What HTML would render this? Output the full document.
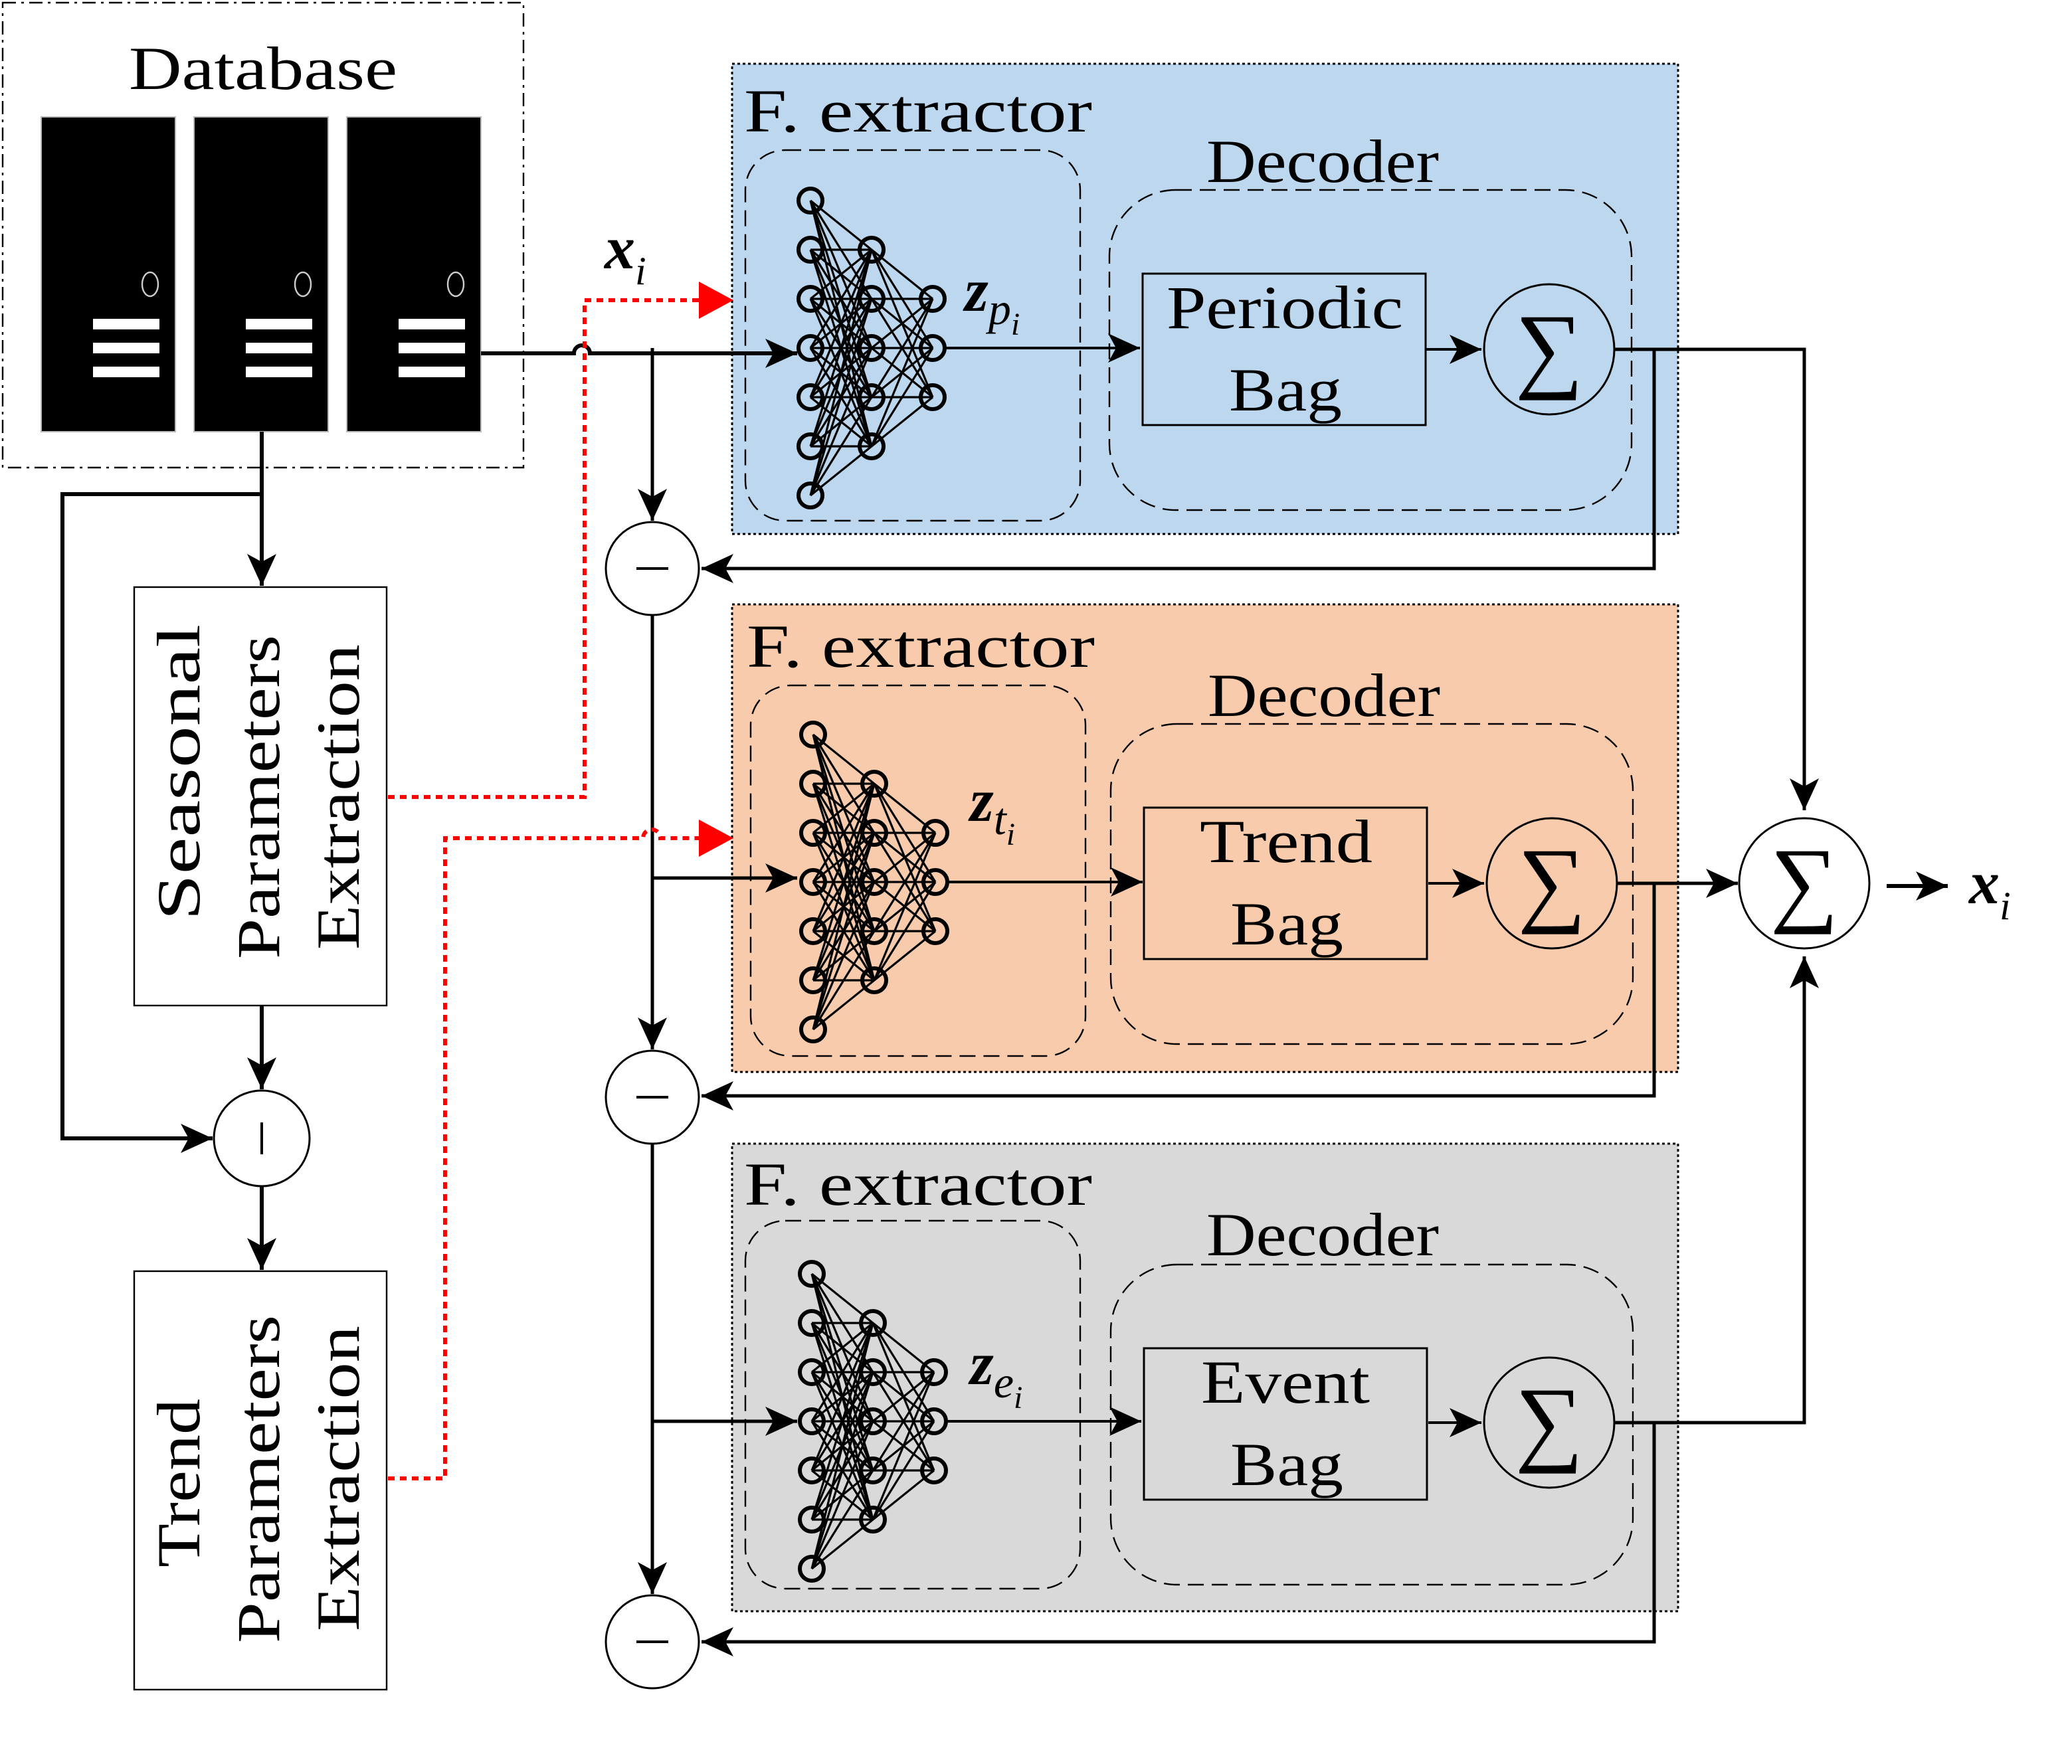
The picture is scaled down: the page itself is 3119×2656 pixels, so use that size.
<!DOCTYPE html>
<html><head><meta charset="utf-8"><style>
html,body{margin:0;padding:0;background:#fff}
svg{display:block}
text{font-family:"Liberation Serif","DejaVu Serif",serif;fill:#000}
</style></head><body>
<svg width="3119" height="2656" viewBox="0 0 1559.5 1328" xmlns="http://www.w3.org/2000/svg">
<defs>
<marker id="ah" viewBox="0 0 10 10" refX="10" refY="5" markerWidth="24" markerHeight="22" markerUnits="userSpaceOnUse" orient="auto" preserveAspectRatio="none"><path d="M0,0 L10,5 L0,10 L2.5,5 z" fill="#000"/></marker>
<g id="nn">
<path fill="none" stroke="#000" stroke-width="1.6" d="
M0,-111L46,-74M0,-111L46,-37M0,-111L46,0M0,-111L46,37M0,-111L46,74
M0,-74L46,-74M0,-74L46,-37M0,-74L46,0M0,-74L46,37M0,-74L46,74
M0,-37L46,-74M0,-37L46,-37M0,-37L46,0M0,-37L46,37M0,-37L46,74
M0,0L46,-74M0,0L46,-37M0,0L46,0M0,0L46,37M0,0L46,74
M0,37L46,-74M0,37L46,-37M0,37L46,0M0,37L46,37M0,37L46,74
M0,74L46,-74M0,74L46,-37M0,74L46,0M0,74L46,37M0,74L46,74
M0,111L46,-74M0,111L46,-37M0,111L46,0M0,111L46,37M0,111L46,74
M46,-74L92,-37M46,-74L92,0M46,-74L92,37
M46,-37L92,-37M46,-37L92,0M46,-37L92,37
M46,0L92,-37M46,0L92,0M46,0L92,37
M46,37L92,-37M46,37L92,0M46,37L92,37
M46,74L92,-37M46,74L92,0M46,74L92,37"/>
<g fill="none" stroke="#000" stroke-width="3">
<circle cx="0" cy="-111" r="9"/><circle cx="0" cy="-74" r="9"/><circle cx="0" cy="-37" r="9"/><circle cx="0" cy="0" r="9"/><circle cx="0" cy="37" r="9"/><circle cx="0" cy="74" r="9"/><circle cx="0" cy="111" r="9"/>
<circle cx="46" cy="-74" r="9"/><circle cx="46" cy="-37" r="9"/><circle cx="46" cy="0" r="9"/><circle cx="46" cy="37" r="9"/><circle cx="46" cy="74" r="9"/>
<circle cx="92" cy="-37" r="9"/><circle cx="92" cy="0" r="9"/><circle cx="92" cy="37" r="9"/>
</g>
</g>
<g id="server">
<rect x="0" y="0" width="101" height="237" fill="#000" stroke="#bbb" stroke-width="1"/>
<ellipse cx="82" cy="126" rx="6" ry="9" fill="none" stroke="#ccc" stroke-width="1.2"/>
<rect x="39" y="152" width="50" height="8" fill="#fff"/>
<rect x="39" y="170" width="50" height="8" fill="#fff"/>
<rect x="39" y="188" width="50" height="8" fill="#fff"/>
</g>
</defs>

<!-- Database -->
<rect x="2" y="2" width="392" height="350" fill="none" stroke="#000" stroke-width="1.2" stroke-dasharray="10,4,2,4"/>
<text x="97" y="67" font-size="46" textLength="202" lengthAdjust="spacingAndGlyphs">Database</text>
<use href="#server" x="31" y="88"/>
<use href="#server" x="146" y="88"/>
<use href="#server" x="261" y="88"/>

<!-- Panels -->
<rect x="551" y="48" width="712" height="354" fill="#bdd7ee" stroke="#000" stroke-width="1.5" stroke-dasharray="2,2"/>
<rect x="551" y="455" width="712" height="352" fill="#f8cbad" stroke="#000" stroke-width="1.5" stroke-dasharray="2,2"/>
<rect x="551" y="861" width="712" height="352" fill="#d9d9d9" stroke="#000" stroke-width="1.5" stroke-dasharray="2,2"/>

<g>
<text x="560" y="99" font-size="46" textLength="262" lengthAdjust="spacingAndGlyphs">F. extractor</text>
<rect x="561" y="113" width="252" height="279" rx="30" fill="none" stroke="#000" stroke-width="1.2" stroke-dasharray="12,6"/>
<text x="908" y="137" font-size="46" textLength="175" lengthAdjust="spacingAndGlyphs">Decoder</text>
<rect x="835" y="143" width="393" height="241" rx="50" fill="none" stroke="#000" stroke-width="1.2" stroke-dasharray="12,6"/>
<rect x="860" y="206" width="213" height="114" fill="none" stroke="#000" stroke-width="1.5"/>
<text x="878" y="247" font-size="46" textLength="178" lengthAdjust="spacingAndGlyphs">Periodic</text>
<text x="925" y="309" font-size="46" textLength="85" lengthAdjust="spacingAndGlyphs">Bag</text>
<circle cx="1166" cy="263" r="49" fill="none" stroke="#000" stroke-width="1.5"/>
<text x="1166" y="286" font-size="72" text-anchor="middle">∑</text>
<use href="#nn" x="610" y="262"/>
<line x1="712" y1="262" x2="858" y2="262" stroke="#000" stroke-width="2" marker-end="url(#ah)"/>
<line x1="1073" y1="263" x2="1115" y2="263" stroke="#000" stroke-width="2" marker-end="url(#ah)"/>
<text x="726" y="234" font-size="46" font-weight="bold" font-style="italic">z<tspan font-weight="normal" font-size="34" dy="10">p</tspan><tspan font-weight="normal" font-size="24" dy="8">i</tspan></text>
</g>
<g>
<text x="562" y="502" font-size="46" textLength="262" lengthAdjust="spacingAndGlyphs">F. extractor</text>
<rect x="565" y="516" width="252" height="279" rx="30" fill="none" stroke="#000" stroke-width="1.2" stroke-dasharray="12,6"/>
<text x="909" y="539" font-size="46" textLength="175" lengthAdjust="spacingAndGlyphs">Decoder</text>
<rect x="836" y="545" width="393" height="241" rx="50" fill="none" stroke="#000" stroke-width="1.2" stroke-dasharray="12,6"/>
<rect x="861" y="608" width="213" height="114" fill="none" stroke="#000" stroke-width="1.5"/>
<text x="903" y="649" font-size="46" textLength="130" lengthAdjust="spacingAndGlyphs">Trend</text>
<text x="926" y="711" font-size="46" textLength="85" lengthAdjust="spacingAndGlyphs">Bag</text>
<circle cx="1168" cy="665" r="49" fill="none" stroke="#000" stroke-width="1.5"/>
<text x="1168" y="688" font-size="72" text-anchor="middle">∑</text>
<use href="#nn" x="612" y="664"/>
<line x1="714" y1="664" x2="860" y2="664" stroke="#000" stroke-width="2" marker-end="url(#ah)"/>
<line x1="1075" y1="665" x2="1117" y2="665" stroke="#000" stroke-width="2" marker-end="url(#ah)"/>
<text x="730" y="618" font-size="46" font-weight="bold" font-style="italic">z<tspan font-weight="normal" font-size="34" dy="10">t</tspan><tspan font-weight="normal" font-size="24" dy="8">i</tspan></text>
</g>
<g>
<text x="560" y="907" font-size="46" textLength="262" lengthAdjust="spacingAndGlyphs">F. extractor</text>
<rect x="561" y="919" width="252" height="277" rx="30" fill="none" stroke="#000" stroke-width="1.2" stroke-dasharray="12,6"/>
<text x="908" y="945" font-size="46" textLength="175" lengthAdjust="spacingAndGlyphs">Decoder</text>
<rect x="836" y="952" width="393" height="241" rx="50" fill="none" stroke="#000" stroke-width="1.2" stroke-dasharray="12,6"/>
<rect x="861" y="1015" width="213" height="114" fill="none" stroke="#000" stroke-width="1.5"/>
<text x="904" y="1056" font-size="46" textLength="127" lengthAdjust="spacingAndGlyphs">Event</text>
<text x="926" y="1118" font-size="46" textLength="85" lengthAdjust="spacingAndGlyphs">Bag</text>
<circle cx="1166" cy="1071" r="49" fill="none" stroke="#000" stroke-width="1.5"/>
<text x="1166" y="1094" font-size="72" text-anchor="middle">∑</text>
<use href="#nn" x="611" y="1070"/>
<line x1="713" y1="1070" x2="859" y2="1070" stroke="#000" stroke-width="2" marker-end="url(#ah)"/>
<line x1="1075" y1="1071" x2="1115" y2="1071" stroke="#000" stroke-width="2" marker-end="url(#ah)"/>
<text x="730" y="1042" font-size="46" font-weight="bold" font-style="italic">z<tspan font-weight="normal" font-size="34" dy="10">e</tspan><tspan font-weight="normal" font-size="24" dy="8">i</tspan></text>
</g>

<path d="M362,266 H432 A6,6 0 0 1 444,266 H600" fill="none" stroke="#000" stroke-width="3" marker-end="url(#ah)"/>
<text x="455" y="202" font-size="46" font-weight="bold" font-style="italic">x<tspan font-weight="normal" font-size="30" dy="12">i</tspan></text>

<g fill="#fff" stroke="#000" stroke-width="1.5">
<circle cx="491" cy="428" r="35"/><circle cx="491" cy="826" r="35"/><circle cx="491" cy="1236" r="35"/>
</g>
<g stroke="#000" stroke-width="2"><line x1="479" y1="428" x2="503" y2="428"/><line x1="479" y1="826" x2="503" y2="826"/><line x1="479" y1="1236" x2="503" y2="1236"/></g>

<g fill="none" stroke="#000" stroke-width="2.5">
<line x1="491" y1="262" x2="491" y2="392" marker-end="url(#ah)"/>
<line x1="491" y1="463" x2="491" y2="790" marker-end="url(#ah)"/>
<line x1="491" y1="661" x2="600" y2="661" marker-end="url(#ah)"/>
<line x1="491" y1="861" x2="491" y2="1200" marker-end="url(#ah)"/>
<line x1="491" y1="1070" x2="600" y2="1070" marker-end="url(#ah)"/>
<path d="M1215,263 H1358 V610" marker-end="url(#ah)"/>
<path d="M1245,263 V428 H528" marker-end="url(#ah)"/>
<path d="M1217,665 H1308" marker-end="url(#ah)"/>
<path d="M1245,665 V825 H528" marker-end="url(#ah)"/>
<path d="M1215,1071 H1358 V720" marker-end="url(#ah)"/>
<path d="M1245,1071 V1236 H528" marker-end="url(#ah)"/>
<line x1="1420" y1="667" x2="1466" y2="667" stroke-width="3" marker-end="url(#ah)"/>
<line x1="197" y1="325" x2="197" y2="441" stroke-width="3" marker-end="url(#ah)"/>
<path d="M197,372 H47 V857 H160" stroke-width="3" marker-end="url(#ah)"/>
<line x1="197" y1="757" x2="197" y2="820" stroke-width="3" marker-end="url(#ah)"/>
<line x1="197" y1="893" x2="197" y2="956" stroke-width="3" marker-end="url(#ah)"/>
</g>

<circle cx="1358" cy="665" r="49" fill="#fff" stroke="#000" stroke-width="1.5"/>
<text x="1358" y="688" font-size="72" text-anchor="middle">∑</text>
<text x="1482" y="680" font-size="46" font-weight="bold" font-style="italic">x<tspan font-weight="normal" font-size="30" dy="12">i</tspan></text>

<circle cx="197" cy="857" r="36" fill="#fff" stroke="#000" stroke-width="1.5"/>
<line x1="197" y1="845" x2="197" y2="869" stroke="#000" stroke-width="2"/>

<rect x="101" y="442" width="190" height="315" fill="#fff" stroke="#000" stroke-width="1.2"/>
<g transform="translate(196,600) rotate(-90)">
<text x="-93" y="-46" font-size="46" textLength="223" lengthAdjust="spacingAndGlyphs">Seasonal</text>
<text x="-122" y="14" font-size="46" textLength="244" lengthAdjust="spacingAndGlyphs">Parameters</text>
<text x="-115" y="74" font-size="46" textLength="230" lengthAdjust="spacingAndGlyphs">Extraction</text>
</g>
<rect x="101" y="957" width="190" height="315" fill="#fff" stroke="#000" stroke-width="1.2"/>
<g transform="translate(196,1114) rotate(-90)">
<text x="-66" y="-46" font-size="46" textLength="127" lengthAdjust="spacingAndGlyphs">Trend</text>
<text x="-123" y="14" font-size="46" textLength="247" lengthAdjust="spacingAndGlyphs">Parameters</text>
<text x="-114" y="74" font-size="46" textLength="230" lengthAdjust="spacingAndGlyphs">Extraction</text>
</g>

<g fill="none" stroke="#ff0000" stroke-width="3" stroke-dasharray="5,4">
<path d="M292,600 H440 V226 H528"/>
<path d="M292,1113 H335 V631 H484 A6,6 0 0 1 497,631 H528"/>
</g>
<path d="M526,212 L552,226 L526,240 z" fill="#ff0000"/>
<path d="M526,617 L552,631 L526,645 z" fill="#ff0000"/>
</svg>
</body></html>
